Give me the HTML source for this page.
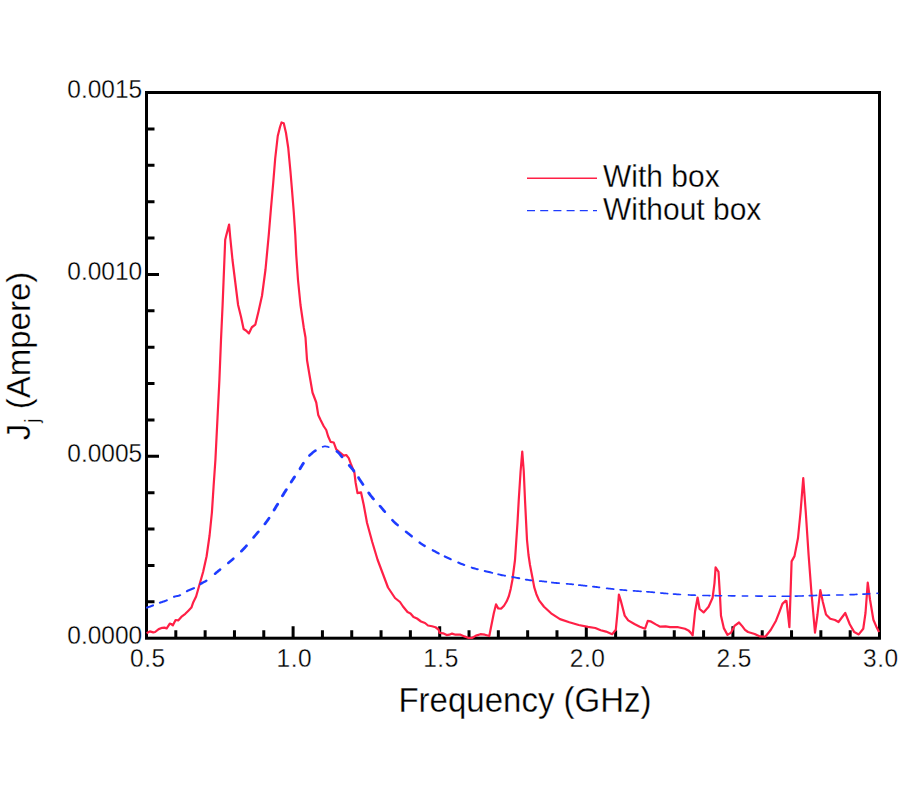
<!DOCTYPE html>
<html><head><meta charset="utf-8"><title>Jj vs Frequency</title>
<style>
html,body{margin:0;padding:0;background:#fff;}
body{width:900px;height:800px;overflow:hidden;}
svg{display:block;font-family:"Liberation Sans",Arial,Helvetica,sans-serif;}
text{stroke:#fff;stroke-width:0.3px;paint-order:normal;}
</style></head><body>
<svg width="900" height="800" viewBox="0 0 900 800">
<rect width="900" height="800" fill="#fff"/>
<rect x="146.5" y="92.5" width="733.0" height="545.7" fill="none" stroke="#000" stroke-width="3"/>
<path d="M175.82 638.20V630.20M205.14 638.20V630.20M234.46 638.20V630.20M263.78 638.20V630.20M293.10 638.20V626.20M322.42 638.20V630.20M351.74 638.20V630.20M381.06 638.20V630.20M410.38 638.20V630.20M439.70 638.20V626.20M469.02 638.20V630.20M498.34 638.20V630.20M527.66 638.20V630.20M556.98 638.20V630.20M586.30 638.20V626.20M615.62 638.20V630.20M644.94 638.20V630.20M674.26 638.20V630.20M703.58 638.20V630.20M732.90 638.20V626.20M762.22 638.20V630.20M791.54 638.20V630.20M820.86 638.20V630.20M850.18 638.20V630.20M146.50 601.82H154.50M146.50 565.44H154.50M146.50 529.06H154.50M146.50 492.68H154.50M146.50 456.30H159.00M146.50 419.92H154.50M146.50 383.54H154.50M146.50 347.16H154.50M146.50 310.78H154.50M146.50 274.40H159.00M146.50 238.02H154.50M146.50 201.64H154.50M146.50 165.26H154.50M146.50 128.88H154.50" stroke="#000" stroke-width="3" fill="none"/>
<polyline fill="none" stroke="#ff2046" stroke-width="2.2" stroke-linejoin="round" points="146.70,633.20 149.80,631.40 153.30,632.40 155.10,632.00 158.70,629.10 162.20,627.80 164.40,627.60 166.70,628.40 169.80,623.60 171.10,624.00 172.90,625.30 175.60,620.00 178.20,620.40 181.30,616.90 185.30,613.80 188.40,610.70 191.40,607.60 193.30,602.20 196.10,596.50 199.60,584.25 203.10,572.00 206.60,556.25 209.60,535.25 211.90,512.50 213.60,486.25 215.40,460.00 217.40,420.00 219.40,380.00 221.00,340.00 222.60,305.00 223.50,282.50 224.40,260.00 225.20,239.75 226.30,235.25 229.10,224.60 230.25,237.50 232.50,260.00 235.30,282.50 238.10,305.00 241.00,316.75 243.60,329.00 246.25,330.75 248.90,333.40 251.85,327.25 255.35,324.60 258.50,311.50 262.00,295.75 265.50,269.50 268.75,235.00 271.00,208.00 273.25,182.50 275.20,158.50 277.75,136.00 280.00,127.00 281.50,122.50 283.75,123.25 286.00,133.00 288.25,148.00 290.50,172.00 292.00,190.00 293.80,212.50 295.30,235.00 296.25,255.00 298.00,280.00 300.50,305.00 303.75,327.50 305.50,337.50 307.00,360.00 309.50,375.00 312.50,392.50 316.25,402.50 318.25,415.00 320.60,420.00 323.75,426.25 326.25,430.00 328.10,436.25 330.60,441.90 333.75,442.50 336.25,449.40 340.00,452.50 343.75,455.60 346.25,455.00 348.75,458.10 351.25,465.00 354.40,472.50 355.60,482.50 357.50,493.10 361.00,492.25 363.75,505.00 366.50,520.00 367.00,522.75 372.25,542.00 377.50,559.50 382.75,573.50 388.00,587.50 395.00,598.00 400.00,602.00 403.00,606.50 407.50,612.00 410.50,613.50 413.50,617.00 417.00,618.50 421.00,621.50 425.00,623.00 428.00,625.50 432.00,626.25 435.50,627.25 438.50,629.50 439.60,632.90 443.10,633.30 446.70,635.10 449.30,634.70 452.00,633.60 455.60,634.70 460.00,634.50 464.40,636.40 468.00,637.80 472.40,637.80 476.00,635.60 480.40,634.20 484.90,634.70 489.30,636.00 491.10,626.70 493.80,613.30 496.00,604.40 498.20,608.40 501.30,608.60 504.00,605.80 506.70,601.30 508.90,596.00 510.70,588.90 512.40,580.00 515.00,560.00 517.50,522.50 518.75,500.00 520.60,471.25 522.25,451.50 523.75,471.25 525.00,500.00 527.00,540.00 528.50,555.00 530.00,565.00 532.90,580.00 534.20,587.10 536.40,594.20 539.10,600.40 544.00,606.70 551.10,613.30 560.00,619.10 569.30,622.20 578.70,625.00 588.00,626.90 595.30,628.00 600.70,630.20 606.00,631.60 612.20,634.20 615.80,629.80 617.60,611.10 618.90,594.70 620.70,600.40 624.70,615.60 628.20,620.40 634.40,624.00 639.80,626.70 645.10,628.70 647.80,620.90 650.40,621.30 655.80,624.40 660.20,626.70 665.60,626.40 670.00,627.10 678.20,627.20 685.00,628.70 688.40,630.40 690.60,632.60 692.65,635.40 695.10,611.25 697.60,597.50 699.60,609.00 703.60,612.40 708.60,606.75 712.60,597.75 714.50,583.10 715.60,567.40 718.50,571.90 719.90,594.40 721.00,615.75 723.80,628.10 727.50,634.90 731.10,632.60 734.50,625.90 739.00,622.50 742.40,626.40 745.00,629.80 748.00,632.00 754.70,634.00 760.00,636.40 765.30,636.70 770.70,630.00 776.00,620.70 779.25,612.40 782.40,603.90 785.60,600.70 786.50,601.00 789.40,627.25 791.60,561.40 794.50,556.10 798.00,538.00 800.50,512.50 803.25,478.10 805.80,512.50 808.60,555.00 811.50,593.25 815.00,632.60 817.50,614.50 820.30,590.00 822.80,601.75 826.00,614.50 830.25,618.75 835.00,620.00 838.50,622.00 845.25,613.00 849.75,624.25 854.25,632.10 858.75,634.40 863.25,628.75 865.50,613.00 867.75,582.60 870.00,599.50 873.40,619.75 876.75,627.60 879.00,632.10"/>
<path fill="none" stroke="#1e3cff" stroke-width="1.6" stroke-linecap="round" d="M702.84 595.48 L703.22 595.48 L704.77 595.52 L706.30 595.54 L707.83 595.57 L709.38 595.59 L709.96 595.59M715.04 595.65 L716.09 595.66 L717.98 595.68 L720.00 595.70 L721.56 595.72M728.44 595.79 L729.22 595.80 L731.74 595.83 L734.31 595.85 L734.96 595.86M742.34 595.93 L744.83 595.95 L747.43 595.98 L747.66 595.98M755.64 596.06 L757.96 596.09 L760.70 596.12 L762.16 596.14M768.94 596.22 L771.52 596.24 L774.07 596.27 L775.46 596.28M782.14 596.30 L782.99 596.30 L784.83 596.29 L786.52 596.28 L788.11 596.26 L789.62 596.24 L789.66 596.24M795.24 596.12 L795.32 596.12 L796.80 596.08 L798.35 596.04 L800.00 596.00 L801.74 595.95 L803.26 595.91M822.64 595.29 L823.66 595.26 L825.29 595.23 L826.90 595.20 L828.48 595.17 L829.56 595.16M836.64 595.06 L837.34 595.05 L838.69 595.03 L840.00 595.00 L841.26 594.97 L842.46 594.94 L842.96 594.93"/>
<path fill="none" stroke="#1e3cff" stroke-width="1.7" stroke-linecap="round" d="M322.64 446.85 L322.90 446.77 L323.27 446.66 L323.61 446.57 L323.94 446.51 L324.24 446.46 L324.53 446.43 L324.81 446.41 L325.09 446.41 L325.37 446.42 L325.65 446.44 L325.95 446.47 L326.25 446.50 L326.55 446.54 L326.83 446.58 L327.10 446.63 L327.36 446.69 L327.62 446.76 L327.89 446.84 L328.17 446.94 L328.47 447.06 L328.68 447.14M566.58 583.80 L567.70 583.89 L568.91 583.99 L570.10 584.10 L571.26 584.21 L572.41 584.33 L573.22 584.42M620.08 589.73 L620.78 589.80 L621.88 589.90 L623.00 590.00 L624.13 590.10 L625.29 590.20 L626.45 590.29 L626.52 590.30M633.48 590.84 L633.55 590.84 L634.71 590.93 L635.87 591.02 L637.00 591.10 L638.12 591.18 L639.21 591.26 L640.30 591.33 L641.02 591.38M646.78 591.76 L647.79 591.83 L648.88 591.91 L650.00 592.00 L651.13 592.09 L652.25 592.19 L653.38 592.30 L654.32 592.39M660.68 593.00 L661.54 593.08 L662.76 593.19 L664.00 593.30 L665.25 593.40 L666.50 593.51 L667.62 593.60M673.48 594.07 L674.30 594.13 L675.67 594.22 L677.08 594.32 L678.52 594.41 L680.00 594.50 L680.42 594.52M688.48 594.95 L689.75 595.01 L691.46 595.08 L693.19 595.16 L694.91 595.22 L695.42 595.24M809.28 595.71 L811.06 595.65 L812.96 595.58 L814.85 595.52 L816.62 595.46M850.08 594.71 L850.89 594.68 L851.93 594.64 L853.00 594.60 L854.08 594.56 L855.16 594.52 L856.23 594.47 L856.92 594.44M862.98 594.16 L863.78 594.12 L864.88 594.06 L866.00 594.00 L867.18 593.93 L868.44 593.86 L869.72 593.78M876.98 593.30 L877.46 593.27 L877.82 593.24"/>
<path fill="none" stroke="#1e3cff" stroke-width="1.8" stroke-linecap="round" d="M525.71 579.56 L525.75 579.56 L526.86 579.76 L527.98 579.94 L529.10 580.10 L530.22 580.24 L531.35 580.37 L531.58 580.39M539.72 581.04 L540.39 581.09 L541.50 581.19 L542.60 581.30 L543.69 581.42 L544.75 581.55 L545.80 581.68 L546.29 581.74M551.91 582.50 L552.08 582.52 L553.16 582.65 L554.27 582.78 L555.40 582.90 L556.56 583.01 L557.76 583.12 L558.97 583.22 L559.08 583.23M578.82 585.06 L579.12 585.10 L580.22 585.23 L581.31 585.35 L582.40 585.48 L583.50 585.60 L584.59 585.72 L585.67 585.84 L586.58 585.93M592.92 586.61 L593.14 586.63 L594.22 586.75 L595.30 586.87 L596.40 587.00 L597.51 587.13 L598.63 587.27 L599.39 587.37M606.71 588.31 L607.76 588.44 L608.89 588.57 L610.00 588.70 L611.10 588.82 L612.19 588.94 L613.27 589.06 L613.68 589.10"/>
<path fill="none" stroke="#1e3cff" stroke-width="1.9" stroke-linecap="round" d="M498.24 574.32 L498.64 574.41 L499.84 574.69 L501.03 574.95 L502.20 575.20 L503.36 575.44 L504.51 575.66 L505.05 575.76M512.25 577.00 L512.35 577.02 L513.47 577.21 L514.58 577.40 L515.70 577.60 L516.82 577.81 L517.94 578.03 L519.05 578.25 L519.26 578.29"/>
<path fill="none" stroke="#1e3cff" stroke-width="2.0" stroke-linecap="round" d="M174.04 596.81 L174.37 596.70 L174.93 596.53 L175.48 596.38 L176.03 596.26 L176.58 596.14 L177.13 596.03 L177.67 595.92 L178.21 595.80 L178.75 595.66 L179.30 595.51 L179.85 595.32 L180.17 595.19M471.76 567.64 L472.67 567.92 L473.75 568.25 L474.85 568.57 L475.98 568.88 L477.12 569.19 L477.72 569.34M484.78 571.04 L485.37 571.18 L486.56 571.46 L487.75 571.75 L488.94 572.04 L490.14 572.34 L491.35 572.64 L492.22 572.86"/>
<path fill="none" stroke="#1e3cff" stroke-width="2.1" stroke-linecap="round" d="M147.02 607.58 L147.42 607.44 L147.88 607.27 L148.41 607.09 L148.98 606.88 L149.58 606.66 L150.21 606.44 L150.85 606.20 L151.49 605.97 L152.12 605.74 L152.73 605.51 L153.01 605.41M159.89 602.74 L160.00 602.70 L160.56 602.50 L161.11 602.31 L161.67 602.13 L162.22 601.96 L162.77 601.78 L163.32 601.61 L163.88 601.43 L164.44 601.24 L165.00 601.05 L165.56 600.85 L166.13 600.63 L166.70 600.40 L166.84 600.34"/>
<path fill="none" stroke="#1e3cff" stroke-width="2.2" stroke-linecap="round" d="M186.97 591.17 L187.10 591.10 L187.68 590.81 L188.27 590.54 L188.87 590.28 L189.47 590.03 L190.08 589.79 L190.68 589.55 L191.29 589.31 L191.89 589.07 L192.48 588.82 L193.06 588.56 L193.64 588.29 L193.93 588.14M444.79 556.46 L445.38 556.74 L446.42 557.24 L447.50 557.75 L448.61 558.27 L449.75 558.80 L450.70 559.23M458.31 562.58 L459.25 562.98 L460.39 563.45 L461.50 563.90 L462.58 564.33 L463.62 564.74 L464.18 564.95"/>
<path fill="none" stroke="#1e3cff" stroke-width="2.3" stroke-linecap="round" d="M432.81 550.31 L433.00 550.41 L434.14 551.01 L435.25 551.60 L436.33 552.17 L437.37 552.72 L438.39 553.26 L438.68 553.41"/>
<path fill="none" stroke="#1e3cff" stroke-width="2.4" stroke-linecap="round" d="M200.41 583.99 L200.92 583.69 L201.44 583.40 L201.96 583.11 L202.47 582.84 L202.99 582.56 L203.51 582.29 L204.03 582.01 L204.56 581.72 L205.09 581.42 L205.62 581.10 L206.16 580.76 L206.31 580.66M419.58 542.59 L420.17 543.01 L421.25 543.75 L422.36 544.47 L423.50 545.18 L424.67 545.88 L424.67 545.88"/>
<path fill="none" stroke="#1e3cff" stroke-width="2.5" stroke-linecap="round" d="M405.99 531.73 L406.72 532.30 L407.88 533.21 L409.00 534.10 L410.08 534.97 L411.12 535.83 L411.73 536.33"/>
<path fill="none" stroke="#1e3cff" stroke-width="2.6" stroke-linecap="round" d="M215.10 573.69 L215.46 573.40 L216.13 572.84 L216.82 572.28 L217.52 571.70 L218.23 571.11 L218.96 570.51 L219.69 569.90 L220.10 569.57M228.31 562.93 L228.87 562.48 L229.78 561.73 L230.68 560.97 L231.59 560.19 L232.50 559.40 L233.32 558.67M309.43 455.56 L309.91 455.10 L310.52 454.53 L311.16 453.96 L311.81 453.40 L312.46 452.85 L313.12 452.32 L313.77 451.80 L314.42 451.31 L315.05 450.84 L315.45 450.56M392.42 520.21 L393.05 520.86 L394.01 521.81 L395.00 522.75 L396.03 523.68 L397.12 524.63 L397.60 525.04"/>
<path fill="none" stroke="#1e3cff" stroke-width="2.7" stroke-linecap="round" d="M241.37 551.19 L241.83 550.73 L242.79 549.75 L243.75 548.75 L244.72 547.71 L245.70 546.64 L246.49 545.75M253.59 537.40 L253.65 537.33 L254.63 536.16 L255.60 535.00 L256.57 533.85 L257.55 532.71 L258.30 531.83M336.90 451.46 L336.95 451.49 L337.50 451.90 L338.00 452.31 L338.45 452.71 L338.87 453.12 L339.26 453.54 L339.63 453.97 L340.00 454.41 L340.37 454.87 L340.74 455.35 L341.13 455.84 L341.55 456.37 L342.00 456.91M380.01 506.12 L380.29 506.45 L380.75 506.98 L381.18 507.49 L381.59 507.97 L382.00 508.46 L382.42 508.95 L382.85 509.46 L383.32 510.00 L383.82 510.58 L384.38 511.21 L384.78 511.66"/>
<path fill="none" stroke="#1e3cff" stroke-width="2.8" stroke-linecap="round" d="M264.94 523.83 L265.17 523.54 L266.05 522.40 L266.90 521.25 L267.72 520.10 L268.51 518.96 L268.99 518.24M349.32 465.44 L349.45 465.60 L350.00 466.25 L350.50 466.84 L350.95 467.38 L351.37 467.87 L351.76 468.33 L352.13 468.78 L352.50 469.22 L352.87 469.67 L353.24 470.14 L353.63 470.64 L353.93 471.04M358.51 477.73 L358.52 477.73 L359.16 478.72 L359.81 479.72 L360.48 480.73 L361.15 481.74 L361.82 482.75 L362.50 483.75 L362.97 484.44M368.75 492.86 L369.09 493.34 L369.82 494.35 L370.54 495.33 L371.25 496.25 L371.95 497.13 L372.65 497.98 L373.36 498.80 L373.46 498.92"/>
<path fill="none" stroke="#1e3cff" stroke-width="2.9" stroke-linecap="round" d="M274.10 509.98 L274.21 509.79 L274.90 508.65 L275.60 507.50 L276.30 506.35 L276.98 505.21 L277.61 504.15M282.49 495.83 L283.05 494.90 L283.75 493.75 L284.46 492.60 L285.19 491.43 L285.92 490.25 L286.28 489.69M291.23 481.96 L291.81 481.06 L292.50 480.00 L293.18 478.96 L293.87 477.91 L294.46 477.03M300.04 468.69 L300.40 468.12 L300.74 467.58 L301.02 467.12 L301.26 466.71 L301.47 466.35 L301.67 466.02 L301.85 465.69 L302.04 465.37 L302.25 465.03 L302.49 464.66 L302.77 464.23 L303.10 463.75 L303.34 463.40"/>
<g font-size="24.5" fill="#000"><text transform="matrix(1,0,0,1.045,0,-27.944)" x="142.2" y="643.20" text-anchor="end">0.0000</text><text transform="matrix(1,0,0,1.045,0,-19.758)" x="142.2" y="461.30" text-anchor="end">0.0005</text><text transform="matrix(1,0,0,1.045,0,-11.573)" x="142.2" y="279.40" text-anchor="end">0.0010</text><text transform="matrix(1,0,0,1.045,0,-3.387)" x="142.2" y="97.50" text-anchor="end">0.0015</text><text transform="matrix(1,0,0,1.045,0,-28.970)" x="147.80" y="666" text-anchor="middle" letter-spacing="0.5">0.5</text><text transform="matrix(1,0,0,1.045,0,-28.970)" x="294.40" y="666" text-anchor="middle" letter-spacing="0.5">1.0</text><text transform="matrix(1,0,0,1.045,0,-28.970)" x="441.00" y="666" text-anchor="middle" letter-spacing="0.5">1.5</text><text transform="matrix(1,0,0,1.045,0,-28.970)" x="587.60" y="666" text-anchor="middle" letter-spacing="0.5">2.0</text><text transform="matrix(1,0,0,1.045,0,-28.970)" x="734.20" y="666" text-anchor="middle" letter-spacing="0.5">2.5</text><text transform="matrix(1,0,0,1.045,0,-28.970)" x="880.80" y="666" text-anchor="middle" letter-spacing="0.5">3.0</text></g>
<text transform="matrix(1,0,0,1.045,0,-31.017)" x="525" y="711.5" font-size="33" text-anchor="middle">Frequency (GHz)</text>
<text transform="translate(29.9,440.3) rotate(-90)" font-size="33">J<tspan font-size="19.5" dx="1" dy="9.3">j</tspan><tspan dy="-9.3"> (Ampere)</tspan></text>
<line x1="527" y1="178.3" x2="597" y2="178.3" stroke="#ff2046" stroke-width="1.4"/>
<line x1="527" y1="210.6" x2="597" y2="210.6" stroke="#1e3cff" stroke-width="1.4" stroke-dasharray="8 5.2"/>
<g font-size="30" fill="#000"><text transform="matrix(1,0,0,1.045,0,-7.352)" x="603" y="185.6">With box</text><text transform="matrix(1,0,0,1.045,0,-8.877)" x="603" y="219.5">Without box</text></g>
</svg>
</body></html>
